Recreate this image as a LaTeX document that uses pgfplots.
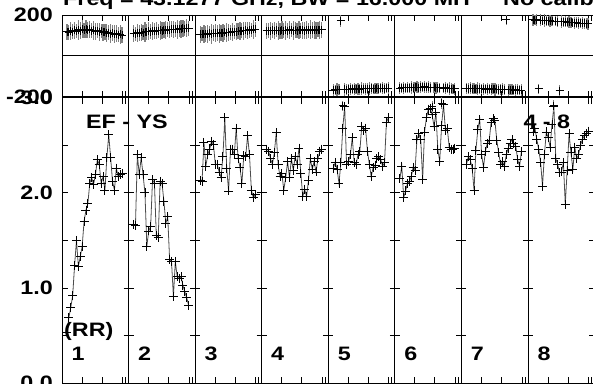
\documentclass[border=0pt]{standalone}
\usepackage{fontspec}
\setmainfont{Liberation Sans}[FakeStretch=1.2]
\usepackage{pgfplots}
\usepackage{pgfplotstable}
\pgfplotsset{compat=1.18}
\newcommand\lbl{\fontsize{19.5}{20}\selectfont\bfseries}

\pgfplotstableread{
ch x a1 a2 a3 a4 a5 a6 a7 a8
1 0.0750 0.53 1.67 2.13 2.46 2.26 2.15 2.30 2.64
2 0.1035 0.69 1.66 2.12 2.44 2.32 2.28 2.38 2.68
3 0.1320 0.80 2.40 2.53 2.36 2.25 1.95 2.35 2.56
4 0.1605 0.92 2.19 2.28 2.30 2.10 2.02 2.26 2.46
5 0.1890 1.24 2.37 2.40 2.42 2.32 2.10 2.03 2.32
6 0.2175 1.50 2.19 2.46 2.63 2.68 2.12 2.45 2.07
7 0.2460 1.23 2.00 2.54 2.30 2.91 2.17 2.67 2.40
8 0.2745 1.33 1.44 2.51 2.17 2.30 2.27 2.77 2.64
9 0.3030 1.44 1.60 2.30 2.20 2.33 2.24 2.40 2.58
10 0.3315 1.70 1.65 2.30 2.03 2.40 2.56 2.27 2.48
11 0.3600 1.82 2.14 2.22 2.16 2.58 2.62 2.44 2.72
12 0.3885 1.89 2.10 2.16 2.33 2.32 2.56 2.52 2.91
13 0.4170 2.10 1.55 2.38 2.16 2.30 2.14 2.55 2.36
14 0.4455 2.16 1.53 2.79 2.36 2.40 2.64 2.74 2.30
15 0.4740 2.09 2.12 2.26 2.24 2.44 2.79 2.78 2.21
16 0.5025 2.19 2.10 2.02 2.38 2.70 2.88 2.76 2.22
17 0.5310 2.35 1.91 2.46 2.30 2.66 2.89 2.55 2.32
18 0.5595 2.30 1.68 2.46 2.47 2.68 2.82 2.42 1.88
19 0.5880 2.10 1.75 2.40 2.20 2.44 2.70 2.30 2.24
20 0.6165 2.17 1.30 2.68 1.96 2.30 2.84 2.33 2.62
21 0.6450 2.03 1.28 2.36 2.04 2.17 2.46 2.28 2.42
22 0.6735 2.37 0.91 2.27 1.96 2.27 2.33 2.40 2.25
23 0.7020 2.61 1.28 2.10 2.13 2.29 2.71 2.47 2.48
24 0.7305 2.37 1.12 2.39 2.36 2.36 2.93 2.52 2.36
25 0.7590 2.12 1.10 2.38 2.25 2.38 2.66 2.56 2.40
26 0.7875 2.03 1.12 2.60 2.33 2.35 2.68 2.52 2.50
27 0.8160 2.26 1.03 2.40 2.22 2.28 2.48 2.49 2.56
28 0.8445 2.17 0.96 2.03 2.36 2.32 2.46 2.35 2.60
29 0.8730 2.19 0.90 1.95 2.44 2.74 2.46 2.28 2.62
30 0.9015 2.20 0.82 1.98 2.46 2.79 2.47 2.44 2.65
}\amp

\pgfplotstableread{
ch x p1 p2 p3 p4 p5 p6 p7 p8 eA eB
1 0.0750 118 110 105 123 -167 -158 -159 176 40 28
2 0.1035 115 108 107 124 -166 -157 -160 175 35 25
3 0.1320 122 113 106 122 -165 -156 -159 176 45 30
4 0.1605 119 112 108 125 -166 -157 -161 -162 38 26
5 0.1890 125 116 107 123 172 -155 -160 174 42 29
6 0.2175 121 114 110 126 -245 -156 -162 173 36 24
7 0.2460 128 118 108 124 -164 -154 -161 174 48 31
8 0.2745 124 117 111 122 -165 -155 -160 172 40 27
9 0.3030 130 120 110 125 -163 -153 -162 171 44 25
10 0.3315 126 119 112 123 -164 -154 -161 172 37 30
11 0.3600 131 122 111 126 -162 -155 -163 170 46 26
12 0.3885 127 121 113 124 -163 -153 -162 -245 39 28
13 0.4170 129 124 112 127 -161 -154 -161 169 43 24
14 0.4455 124 123 115 125 -162 -152 -163 168 35 29
15 0.4740 126 125 114 123 -163 -154 -162 -170 47 27
16 0.5025 120 124 116 126 -161 -153 -164 167 41 31
17 0.5310 123 127 115 124 -160 -155 -163 166 38 25
18 0.5595 118 126 118 127 -162 -250 -165 167 45 28
19 0.5880 121 128 117 125 -161 -154 -164 165 36 26
20 0.6165 115 127 119 126 -160 -156 -163 164 42 30
21 0.6450 117 130 121 124 -159 -155 -165 165 40 27
22 0.6735 112 129 120 127 -161 -157 176 163 44 24
23 0.7020 114 131 123 125 -160 -231 -166 162 37 29
24 0.7305 109 130 122 128 -159 -158 -165 163 46 26
25 0.7590 111 133 125 126 -160 -157 -166 161 39 28
26 0.7875 106 132 124 127 -158 -159 -167 160 43 25
27 0.8160 108 134 127 125 -159 -160 -166 161 41 30
28 0.8445 103 133 126 128 -160 -161 -167 159 36 27
29 0.8730 105 136 129 127 -158 -162 -168 158 45 26
30 0.9015 102 135 130 127 -159 -162 -167 157 38 29
}\phs

\pgfplotsset{
  panelaxis/.style={
    scale only axis, width=532.6bp, xmin=0, xmax=8,
    axis line style={black, line width=0.8bp},
    tick style={black, line width=0.8bp},
    tick align=inside, major tick length=6bp,
    xtick={0.30,0.60,0.91,0.955,1.30,1.60,1.91,1.955,2.30,2.60,2.91,2.955,3.30,3.60,3.91,3.955,4.30,4.60,4.91,4.955,5.30,5.60,5.91,5.955,6.30,6.60,6.91,6.955,7.30,7.60,7.91,7.955},
    xticklabels={},
    extra x ticks={1,2,3,4,5,6,7}, extra x tick labels={},
    extra x tick style={grid=major, major grid style={black, line width=0.8bp}, major tick length=0pt},
    yticklabel style={font=\lbl, inner sep=0pt, xshift=-9bp},
  },
  ampline/.style={draw=black!70, line width=0.8bp, mark=+, mark size=4.5bp,
    mark options={draw=black, line width=0.9bp, solid}},
  phsplot/.style={only marks, mark=+, mark size=4bp, mark options={draw=black, line width=0.9bp},
    error bars/.cd, y dir=both, y explicit, error mark=none,
    error bar style={draw=black!50, line width=1.2bp}},
}

\begin{document}
\begin{tikzpicture}
\useasboundingbox (0,0) rectangle (593bp,384bp);
\clip (0,0) rectangle (593bp,384bp);

\begin{axis}[panelaxis,
  at={(62bp,0.7bp)}, anchor=south west, height=285.6bp,
  ymin=0, ymax=3,
  ytick={0,0.5,1,1.5,2,2.5,3},
  yticklabels={0.0,,1.0,,2.0,,3.0},
]
\addplot[ampline] table[x expr=0+\thisrow{x}, y=a1] {\amp};
\addplot[ampline] table[x expr=1+\thisrow{x}, y=a2] {\amp};
\addplot[ampline] table[x expr=2+\thisrow{x}, y=a3] {\amp};
\addplot[ampline] table[x expr=3+\thisrow{x}, y=a4] {\amp};
\addplot[ampline] table[x expr=4+\thisrow{x}, y=a5] {\amp};
\addplot[ampline] table[x expr=5+\thisrow{x}, y=a6] {\amp};
\addplot[ampline] table[x expr=6+\thisrow{x}, y=a7] {\amp};
\addplot[ampline] table[x expr=7+\thisrow{x}, y=a8] {\amp};
\pgfplotsinvokeforeach{1,...,7}{
  \draw[line width=0.8bp]
    ([xshift=-5bp]axis cs:#1,0.5) -- ([xshift=5bp]axis cs:#1,0.5)
    ([xshift=-5bp]axis cs:#1,1) -- ([xshift=5bp]axis cs:#1,1)
    ([xshift=-5bp]axis cs:#1,1.5) -- ([xshift=5bp]axis cs:#1,1.5)
    ([xshift=-5bp]axis cs:#1,2) -- ([xshift=5bp]axis cs:#1,2)
    ([xshift=-5bp]axis cs:#1,2.5) -- ([xshift=5bp]axis cs:#1,2.5);
}
\node[anchor=west, font=\lbl, inner sep=0pt] at (axis cs:0.36,2.75) {EF - YS};
\node[anchor=west, font=\lbl, inner sep=0pt] at (axis cs:6.93,2.75) {4 - 8};
\node[anchor=west, font=\lbl, inner sep=0pt] at (axis cs:0.03,0.54) {(RR)};
\pgfplotsinvokeforeach{1,...,8}{
  \node[anchor=west, font=\lbl, inner sep=0pt] at (axis cs:#1-1+0.14,0.31) {#1};
}
\end{axis}

\begin{axis}[panelaxis,
  at={(62bp,287.3bp)}, anchor=south west, height=81.7bp,
  ymin=-200, ymax=200, clip=false,
  ytick={-200,200}, yticklabels={-200,200},
  extra y ticks={0}, extra y tick labels={},
  extra y tick style={grid=major, major grid style={black, line width=0.8bp}},
]
\addplot[phsplot] table[x expr=0+\thisrow{x}, y=p1, y error=eA] {\phs};
\addplot[phsplot] table[x expr=1+\thisrow{x}, y=p2, y error=eA] {\phs};
\addplot[phsplot] table[x expr=2+\thisrow{x}, y=p3, y error=eA] {\phs};
\addplot[phsplot] table[x expr=3+\thisrow{x}, y=p4, y error=eA] {\phs};
\addplot[phsplot] table[x expr=4+\thisrow{x}, y=p5, y error=eB] {\phs};
\addplot[phsplot] table[x expr=5+\thisrow{x}, y=p6, y error=eB] {\phs};
\addplot[phsplot] table[x expr=6+\thisrow{x}, y=p7, y error=eB] {\phs};
\addplot[phsplot] table[x expr=7+\thisrow{x}, y=p8, y error=eB] {\phs};
\end{axis}

\node[anchor=base west, font=\lbl, inner sep=0pt] at (63bp,378.3bp) {Freq = 43.1277 GHz, BW = 16.000 MH};
\node[anchor=base west, font=\lbl, inner sep=0pt] at (503bp,378.3bp) {No calibration applied};
\end{tikzpicture}
\end{document}
